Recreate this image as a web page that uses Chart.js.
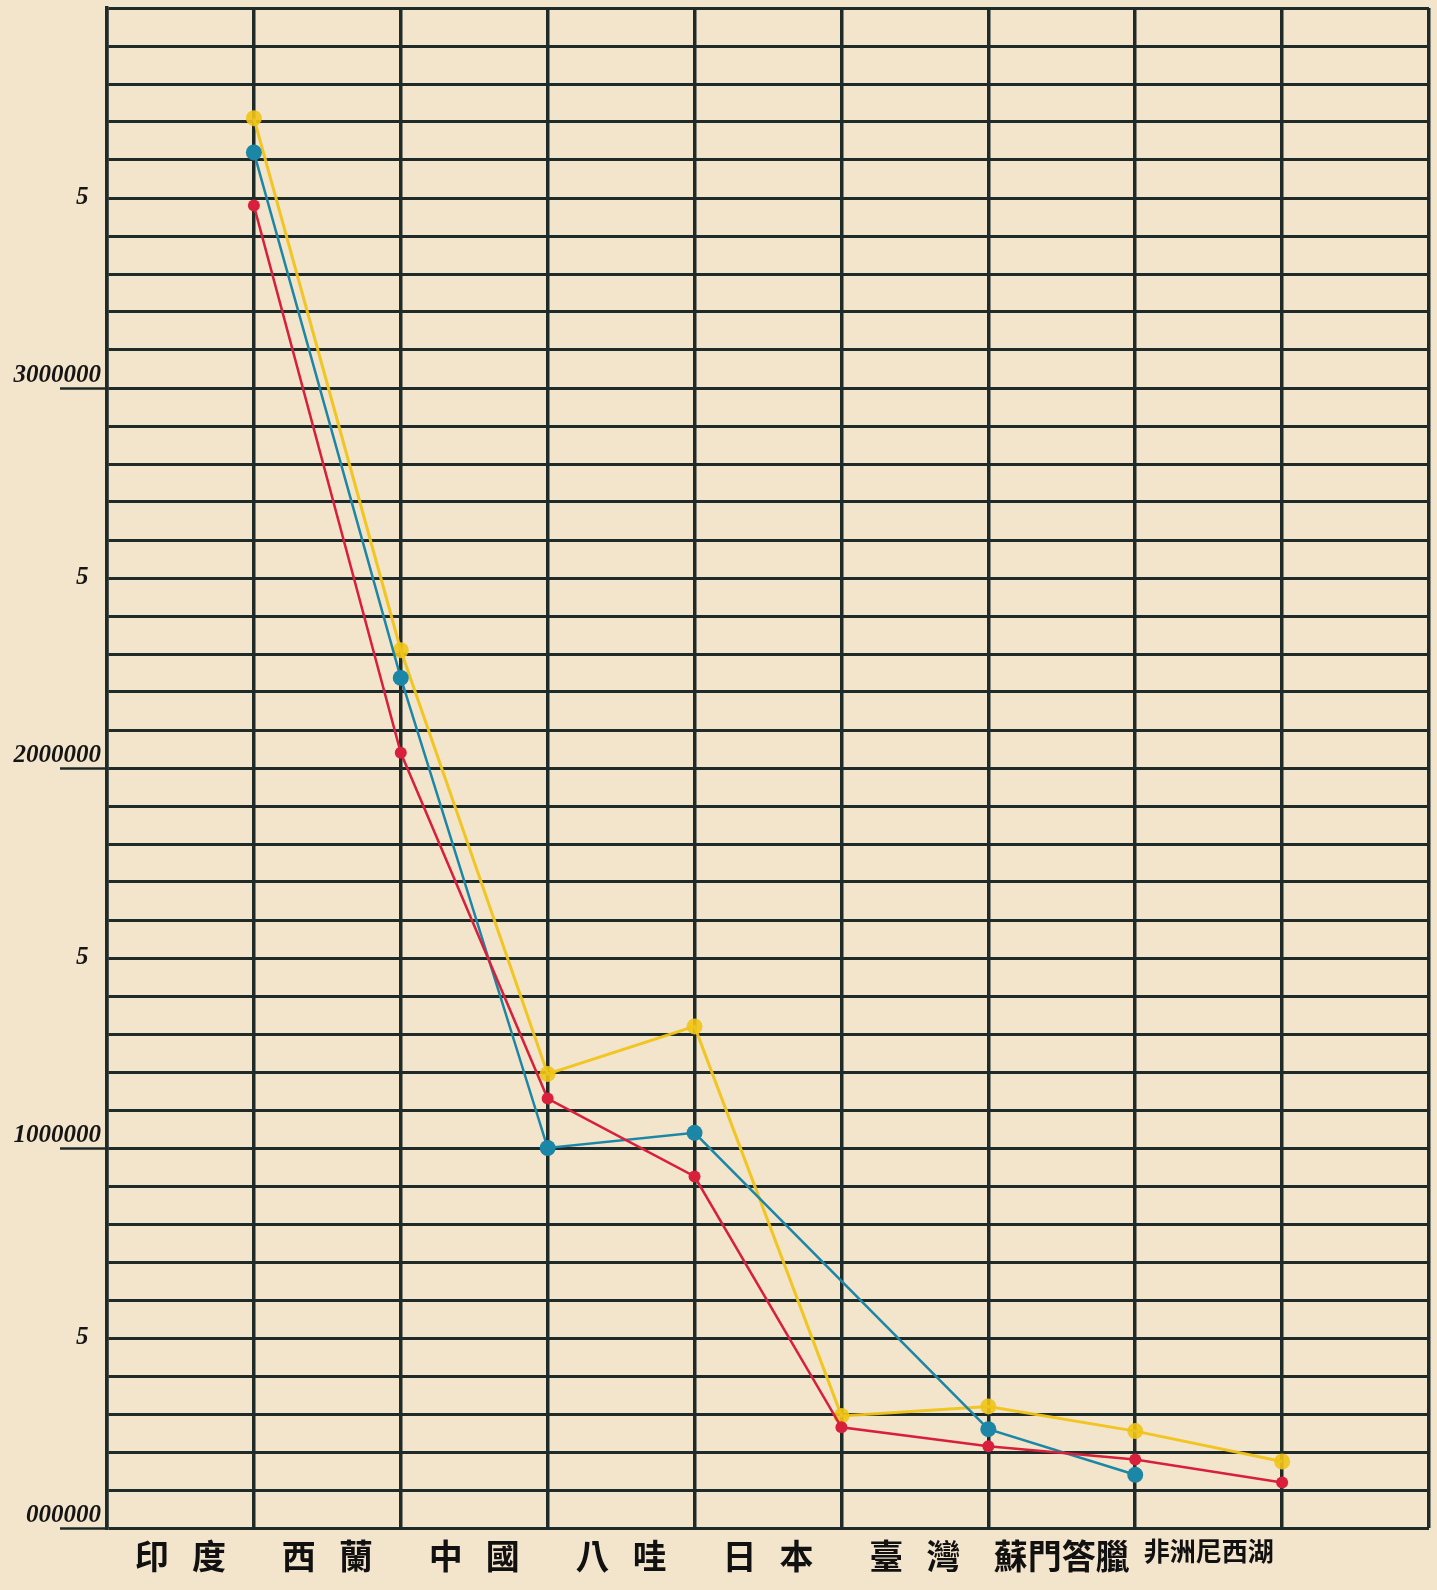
<!DOCTYPE html>
<html>
<head>
<meta charset="utf-8">
<script src="https://cdn.jsdelivr.net/npm/chart.js@4"></script>
<style>
  html, body { margin: 0; padding: 0; background: #f3e4cc; }
  #wrap { width: 1437px; height: 1590px; }
  canvas { display: block; }
</style>
</head>
<body>
<div id="wrap"><canvas id="c" width="1437" height="1590"></canvas></div>
<script>
// ---- data ----
const categories = ['印   度', '西   蘭', '中   國', '八   哇', '日   本', '臺   灣', '蘇門答臘', '非洲尼西湖'];
const seriesYellow = [3710000, 2310000, 1195000, 1320000, 295000, 320000, 255000, 175000];
const seriesBlue   = [3620000, 2237000, 1000000, 1040000, null, 260000, 140000, null];
const seriesRed    = [3480000, 2040000, 1130000, 925000, 265000, 215000, 180000, 120000];
const yLabelValues = [0, 500000, 1000000, 1500000, 2000000, 2500000, 3000000, 3500000];
const yLabelTexts  = ['000000', '5', '1000000', '5', '2000000', '5', '3000000', '5'];

const INK = '#1e2b28';
const toPoints = arr => arr.map((v, i) => ({ x: i + 1, y: v }));
const labelFor = v => { const i = yLabelValues.indexOf(v); return i < 0 ? null : yLabelTexts[i]; };

new Chart(document.getElementById('c'), {
  type: 'line',
  data: {
    datasets: [
      { label: 'red', data: toPoints(seriesRed), borderColor: '#d81f3c', backgroundColor: '#d81f3c',
        borderWidth: 2.5, pointRadius: 6, pointBorderWidth: 0, order: 1, spanGaps: true },
      { label: 'blue', data: toPoints(seriesBlue), borderColor: '#1b86a6', backgroundColor: '#1b86a6',
        borderWidth: 2.5, pointRadius: 8, pointBorderWidth: 0, order: 2, spanGaps: true },
      { label: 'yellow', data: toPoints(seriesYellow), borderColor: 'rgba(240,196,24,0.95)', backgroundColor: 'rgba(240,196,24,0.9)',
        borderWidth: 3, pointRadius: 8, pointBorderWidth: 0, order: 3, spanGaps: true }
    ]
  },
  options: {
    responsive: false,
    animation: false,
    devicePixelRatio: 1,
    layout: { padding: { top: 6, right: 4, left: 0, bottom: 0 } },
    plugins: { legend: { display: false }, tooltip: { enabled: false } },
    scales: {
      x: {
        type: 'linear', position: 'bottom', min: 0, max: 9, weight: 0,
        ticks: { display: false, stepSize: 1 },
        grid: { color: INK, lineWidth: 3.5, drawTicks: false },
        border: { display: false },
        afterFit: s => { s.height = 0; }
      },
      xl: {
        type: 'linear', position: 'bottom', min: 0, max: 9, weight: 1,
        afterBuildTicks: s => { s.ticks = categories.map((c, i) => ({ value: i + 0.5 })); },
        ticks: {
          autoSkip: false, maxRotation: 0, padding: 8, color: '#111',
          font: ctx => ({ family: "'Noto Sans CJK TC'", weight: 'bold', size: ctx.index === 7 ? 26 : 34 }),
          callback: v => categories[Math.round(v - 0.5)]
        },
        grid: { display: false, drawTicks: false },
        border: { display: false },
        afterFit: s => { s.height = 62; }
      },
      y: {
        type: 'linear', min: 0, max: 4000000,
        ticks: {
          stepSize: 100000, autoSkip: false, padding: -41, color: '#151515',
          font: { family: "'Liberation Serif'", style: 'italic', weight: 'bold', size: 25, lineHeight: 1.0 },
          callback: v => {
            const t = labelFor(v);
            if (t === null) return '';
            return t === '5' ? '5  ' : [t, ''];
          }
        },
        grid: {
          color: INK, lineWidth: 3, tickLength: 47, tickWidth: 2.5,
          tickColor: ctx => { const t = ctx.tick ? labelFor(ctx.tick.value) : null; return (t && t !== '5') ? INK : 'rgba(0,0,0,0)'; }
        },
        border: { display: true, color: INK, width: 3.5 },
        afterFit: s => { s.width = 107; }
      }
    }
  }
});
</script>
</body>
</html>
